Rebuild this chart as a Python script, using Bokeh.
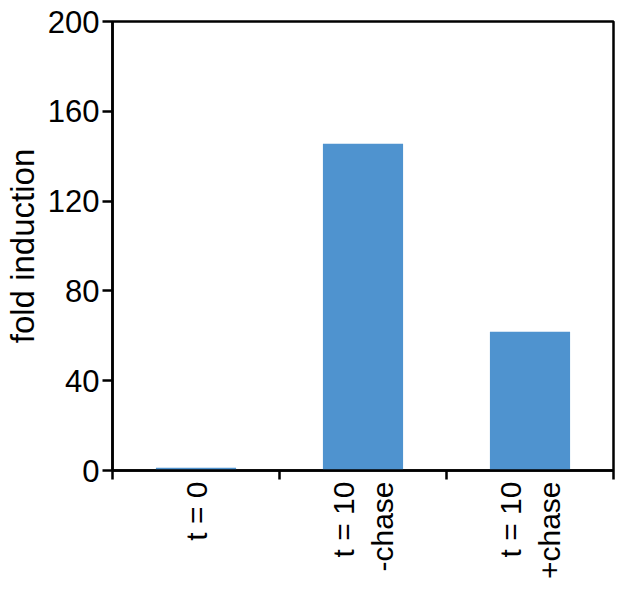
import math
from bokeh.plotting import figure
from bokeh.models import Range1d, LinearAxis, FixedTicker, ColumnDataSource
from bokeh.embed import file_html
from bokeh.resources import INLINE

categories = ["t = 0", "t = 10\n-chase", "t = 10\n+chase"]
fold_induction = [1.2, 145.5, 61.8]
y_ticks = [0, 40, 80, 120, 160, 200]

FONT = "Liberation Sans"
BAR_COLOR = "#4f93cf"

n = len(categories)
centers = [i + 0.5 for i in range(n)]
bounds = list(range(n + 1))

src = ColumnDataSource(dict(x=centers, val=fold_induction, cat=categories))

p = figure(
    x_range=Range1d(0, n),
    y_range=Range1d(0, 200),
    frame_width=501, frame_height=449,
    min_border_top=21, min_border_left=105, min_border_right=3, min_border_bottom=60,
    x_axis_location=None, y_axis_location=None,
    output_backend="svg", toolbar_location=None,
)
p.grid.visible = False
p.outline_line_color = "black"
p.outline_line_width = 2.5
p.background_fill_color = "white"
p.border_fill_color = "white"

p.vbar(x="x", top="val", width=0.48, bottom=0, source=src,
       fill_color=BAR_COLOR, line_color=None)

# y axis
yax = LinearAxis(ticker=FixedTicker(ticks=y_ticks, minor_ticks=[]))
yax.axis_label = "fold induction"
yax.axis_label_text_font = FONT
yax.axis_label_text_font_size = "33px"
yax.axis_label_text_font_style = "normal"
yax.axis_label_text_color = "black"
yax.axis_label_standoff = 4
yax.major_label_text_font = FONT
yax.major_label_text_font_size = "31px"
yax.major_label_text_color = "black"
yax.major_label_standoff = 3
yax.major_tick_in = 0
yax.major_tick_out = 10
yax.major_tick_line_width = 2.5
yax.axis_line_width = 2.5
yax.minor_tick_line_color = None
p.add_layout(yax, "left")

# x axis: labels at category centres, ticks at category boundaries
xax = LinearAxis(ticker=FixedTicker(ticks=centers, minor_ticks=bounds))
xax.major_label_overrides = {c: lab for c, lab in zip(centers, categories)}
xax.major_label_orientation = math.pi / 2
xax.major_label_text_font = FONT
xax.major_label_text_font_size = "30px"
xax.major_label_text_color = "black"
xax.major_label_standoff = 2
xax.major_tick_line_color = None
xax.major_tick_in = 0
xax.major_tick_out = 9
xax.minor_tick_in = 0
xax.minor_tick_out = 9
xax.minor_tick_line_color = "black"
xax.minor_tick_line_width = 2.5
xax.axis_line_width = 2.5
p.add_layout(xax, "below")

open("out.html", "w").write(file_html(p, INLINE))
